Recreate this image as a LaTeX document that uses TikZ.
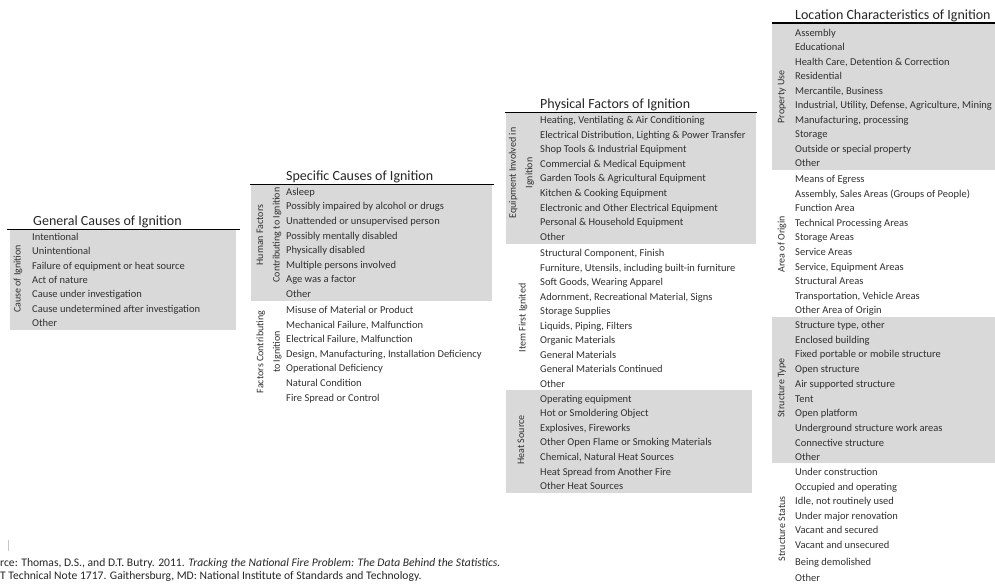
\documentclass[tikz,border=0pt]{standalone}
\usepackage{fontspec}
\setmainfont{Carlito}
\usetikzlibrary{positioning}
\definecolor{bandgray}{HTML}{D9D9D9}
\definecolor{itemink}{HTML}{303030}
\tikzset{
  bandtitle/.style={
    anchor=base west, inner sep=0pt,
    font=\fontsize{14}{16}\selectfont, text=black!85
  },
  itemtext/.style={
    anchor=base west, inner sep=0pt,
    font=\fontsize{10.5}{12}\selectfont, text=itemink
  },
  sidelabel/.style={
    rotate=90, inner sep=0pt, align=center,
    font=\fontsize{10}{16.5}\selectfont, text=itemink
  },
  sourcetext/.style={
    anchor=base west, inner sep=0pt,
    font=\fontsize{11.6}{13}\selectfont, text=black!85
  },
  shadeband/.style={fill=bandgray, draw=none},
  headrule/.style={line width=1.3pt, draw=black},
}

\begin{document}
\begin{tikzpicture}[x=1pt, y=-1pt]
    \useasboundingbox (0,0) rectangle (995,584);

    % shaded bands
    \fill[shadeband] (10,230) rectangle (236,330);
    \fill[shadeband] (251,185) rectangle (492,301);
    \fill[shadeband] (506,113) rectangle (756,244);
    \fill[shadeband] (506,390) rectangle (752,493);
    \fill[shadeband] (772,23) rectangle (995,170);
    \fill[shadeband] (772,317) rectangle (995,463);

    % titles and rules
    \node[bandtitle] (t-general)  at (33,225.5)  {General Causes of Ignition};
    \node[bandtitle] (t-specific) at (286,180.5) {Specific Causes of Ignition};
    \node[bandtitle] (t-physical) at (540,108.5) {Physical Factors of Ignition};
    \node[bandtitle] (t-location) at (795,19)    {Location Characteristics of Ignition};
    \draw[headrule] (7,229.5)   -- (240,229.5);
    \draw[headrule] (250,184.3) -- (494,184.3);
    \draw[headrule] (505,112.5) -- (757,112.5);
    \draw[headrule] (772,23)    -- (995,23);

    % side labels
    \node[sidelabel] (lab-cause)   at (18,279)    {Cause of Ignition};
    \node[sidelabel] (lab-human)   at (269,235)   {Human Factors\\Contributing to Ignition};
    \node[sidelabel] (lab-factors) at (269,352)   {Factors Contributing\\to Ignition};
    \node[sidelabel] (lab-equip)   at (521.5,173) {Equipment Involved in\\Ignition};
    \node[sidelabel] (lab-item)    at (523,318)   {Item First Ignited};
    \node[sidelabel] (lab-heat)    at (521,440)   {Heat Source};
    \node[sidelabel] (lab-prop)    at (782,97)    {Property Use};
    \node[sidelabel] (lab-area)    at (782,244)   {Area of Origin};
    \node[sidelabel] (lab-stype)   at (782,388)   {Structure Type};
    \node[sidelabel] (lab-status)  at (782,529)   {Structure Status};

    % general causes
    \foreach \txt [count=\k from 0] in {Intentional, Unintentional,
        Failure of equipment or heat source, Act of nature,
        Cause under investigation, Cause undetermined after investigation, Other}
      \node[itemtext] (gen-\k) at (32,240.5+14.3*\k) {\txt};

    % specific causes
    \foreach \txt [count=\k from 0] in {Asleep, Possibly impaired by alcohol or drugs,
        Unattended or unsupervised person, Possibly mentally disabled,
        Physically disabled, Multiple persons involved, Age was a factor, Other}
      \node[itemtext] (hum-\k) at (286,195.2+14.6*\k) {\txt};
    \foreach \txt [count=\k from 0] in {Misuse of Material or Product,
        {Mechanical Failure, Malfunction}, {Electrical Failure, Malfunction},
        {Design, Manufacturing, Installation Deficiency}, Operational Deficiency,
        Natural Condition, Fire Spread or Control}
      \node[itemtext] (fac-\k) at (286,313.5+14.6*\k) {\txt};

    % physical factors
    \foreach \txt [count=\k from 0] in {{Heating, Ventilating \& Air Conditioning},
        {Electrical Distribution, Lighting \& Power Transfer},
        Shop Tools \& Industrial Equipment, Commercial \& Medical Equipment,
        Garden Tools \& Agricultural Equipment, Kitchen \& Cooking Equipment,
        Electronic and Other Electrical Equipment, Personal \& Household Equipment, Other}
      \node[itemtext] (equ-\k) at (540,123.5+14.6*\k) {\txt};
    \foreach \txt [count=\k from 0] in {{Structural Component, Finish},
        {Furniture, Utensils, including built-in furniture},
        {Soft Goods, Wearing Apparel}, {Adornment, Recreational Material, Signs},
        Storage Supplies, {Liquids, Piping, Filters}, Organic Materials,
        General Materials, General Materials Continued, Other}
      \node[itemtext] (ign-\k) at (540,256.5+14.5*\k) {\txt};
    \foreach \txt [count=\k from 0] in {Operating equipment, Hot or Smoldering Object,
        {Explosives, Fireworks}, Other Open Flame or Smoking Materials,
        {Chemical, Natural Heat Sources}, Heat Spread from Another Fire, Other Heat Sources}
      \node[itemtext] (heat-\k) at (540,402+14.6*\k) {\txt};

    % location characteristics
    \foreach \txt [count=\k from 0] in {Assembly, Educational,
        {Health Care, Detention \& Correction}, Residential, {Mercantile, Business},
        {Industrial, Utility, Defense, Agriculture, Mining},
        {Manufacturing, processing}, Storage, Outside or special property, Other}
      \node[itemtext] (use-\k) at (795,36.5+14.44*\k) {\txt};
    \foreach \txt [count=\k from 0] in {Means of Egress,
        {Assembly, Sales Areas (Groups of People)}, Function Area,
        Technical Processing Areas, Storage Areas, Service Areas,
        {Service, Equipment Areas}, Structural Areas,
        {Transportation, Vehicle Areas}, Other Area of Origin}
      \node[itemtext] (area-\k) at (795,182.5+14.6*\k) {\txt};
    \foreach \txt [count=\k from 0] in {{Structure type, other}, Enclosed building,
        Fixed portable or mobile structure, Open structure, Air supported structure,
        Tent, Open platform, Underground structure work areas,
        Connective structure, Other}
      \node[itemtext] (type-\k) at (795,328.5+14.7*\k) {\txt};
    \foreach \txt/\y [count=\k from 0] in {Under construction/475.5,
        Occupied and operating/490.5, {Idle, not routinely used}/504.5,
        Under major renovation/519.5, Vacant and secured/533.5,
        Vacant and unsecured/548.5, Being demolished/565, Other/581}
      \node[itemtext] (stat-\k) at (795,\y) {\txt};

    % source
    \draw[gray!45, line width=0.8pt] (8,540) -- (8,551);
    \node[sourcetext] (src-a) at (0,566)
         {rce: Thomas, D.S., and D.T. Butry. 2011. \textit{Tracking the National Fire Problem: The Data Behind the Statistics.}};
    \node[sourcetext] (src-b) at (0,579)
         {T Technical Note 1717. Gaithersburg, MD: National Institute of Standards and Technology.};
\end{tikzpicture}
\end{document}
